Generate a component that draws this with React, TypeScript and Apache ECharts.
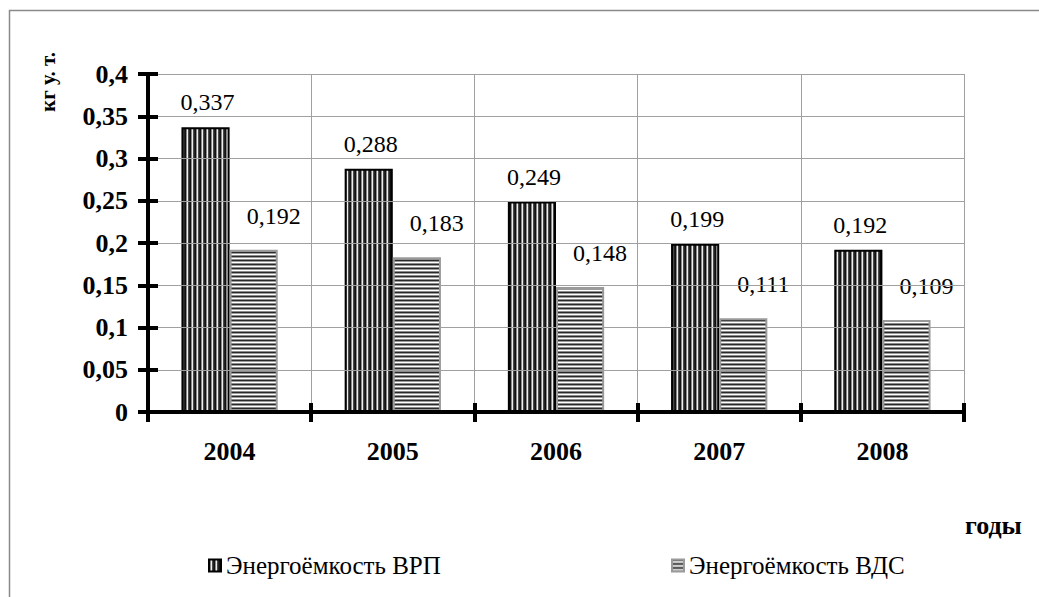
import React, { useEffect, useRef } from "react";
import * as echarts from "echarts";

const years = ["2004", "2005", "2006", "2007", "2008"];
const vrp = [0.337, 0.288, 0.249, 0.199, 0.192];
const vds = [0.192, 0.183, 0.148, 0.111, 0.109];
const seriesNames = ["Энергоёмкость ВРП", "Энергоёмкость ВДС"];
const yTitle = "кг у. т.";
const xTitle = "годы";

const SERIF = "Liberation Serif";

function makePattern(colors: string[], vertical: boolean) {
  const n = colors.length;
  const c = document.createElement("canvas");
  c.width = vertical ? n : 4;
  c.height = vertical ? 4 : n;
  const ctx = c.getContext("2d")!;
  colors.forEach((col, i) => {
    ctx.fillStyle = col;
    if (vertical) ctx.fillRect(i, 0, 1, 4);
    else ctx.fillRect(0, i, 4, 1);
  });
  return {
    image: c,
    repeat: "repeat",
    imageWidth: c.width,
    imageHeight: c.height,
  } as any;
}

const fmt = (v: number, d?: number) =>
  (d === undefined ? String(Math.round(v * 100) / 100) : v.toFixed(d)).replace(".", ",");

export default function App() {
  const ref = useRef<HTMLDivElement>(null);
  useEffect(() => {
    if (!ref.current) return;
    const chart = echarts.init(ref.current, null, { renderer: "svg" });
    const pat1 = makePattern(["#111111", "#8a8a8a", "#eeeeee", "#4a4a4a", "#222222"], true);
    const pat2 = makePattern(["#2a2a2a", "#9a9a9a", "#ffffff", "#8a8a8a"], false);

    const axisLabelStyle = {
      fontFamily: SERIF,
      fontWeight: "bold" as const,
      fontSize: 26,
      color: "#000",
    };
    const gridLine = { show: true, lineStyle: { color: "#a0a0a0", width: 1 } };

    const labelCommon = {
      show: true,
      position: "top" as const,
      fontFamily: SERIF,
      fontSize: 24,
      color: "#000",
      backgroundColor: "#fff",
      padding: [6, 4],
    };

    const legendText = { fontFamily: SERIF, fontSize: 25, color: "#000" };

    chart.setOption({
      animation: false,
      backgroundColor: "#fff",
      grid: { left: 148, right: 75, top: 74, bottom: 185, containLabel: false },
      xAxis: [
        {
          type: "category",
          data: years,
          position: "bottom",
          axisLine: { show: true, lineStyle: { color: "#000", width: 4 } },
          axisTick: { show: true, inside: false, length: 10, lineStyle: { color: "#000", width: 4 } },
          axisLabel: { ...axisLabelStyle, margin: 26 },
          splitLine: gridLine,
          z: 5,
        },
        {
          type: "category",
          data: years,
          position: "bottom",
          axisLine: { show: false },
          axisTick: { show: true, inside: true, length: 9, lineStyle: { color: "#000", width: 4 } },
          axisLabel: { show: false },
          splitLine: { show: false },
          z: 5,
        },
      ],
      yAxis: [
        {
          type: "value",
          min: 0,
          max: 0.4,
          interval: 0.05,
          position: "left",
          axisLine: { show: true, lineStyle: { color: "#000", width: 4 } },
          axisTick: { show: true, inside: false, length: 10, lineStyle: { color: "#000", width: 4 } },
          axisLabel: { ...axisLabelStyle, margin: 20, formatter: (v: number) => fmt(v) },
          splitLine: gridLine,
          z: 5,
        },
        {
          type: "value",
          min: 0,
          max: 0.4,
          interval: 0.05,
          position: "left",
          axisLine: { show: false },
          axisTick: { show: true, inside: true, length: 10, lineStyle: { color: "#000", width: 4 } },
          axisLabel: { show: false },
          splitLine: { show: false },
          z: 5,
        },
      ],
      legend: [
        {
          data: [seriesNames[0]],
          left: 208,
          top: 553,
          padding: 0,
          itemWidth: 12,
          itemHeight: 12,
          itemGap: 0,
          icon: "rect",
          textStyle: legendText,
        },
        {
          data: [seriesNames[1]],
          left: 671,
          top: 553,
          padding: 0,
          itemWidth: 12,
          itemHeight: 12,
          itemGap: 0,
          icon: "rect",
          textStyle: legendText,
        },
      ],
      series: [
        {
          name: seriesNames[0],
          type: "bar",
          data: vrp,
          barGap: "0%",
          barCategoryGap: "41%",
          itemStyle: { color: pat1, borderColor: "#000", borderWidth: 2 },
          label: { ...labelCommon, offset: [2, -2], formatter: (p: any) => fmt(p.value, 3) },
        },
        {
          name: seriesNames[1],
          type: "bar",
          data: vds,
          itemStyle: { color: pat2, borderColor: "#9a9a9a", borderWidth: 2 },
          label: { ...labelCommon, offset: [20, -11], formatter: (p: any) => fmt(p.value, 3) },
        },
      ],
      graphic: [
        {
          type: "polyline",
          shape: { points: [[9.5, 600], [9.5, 10.5], [1040, 10.5]] },
          style: { stroke: "#8a8a8a", lineWidth: 1.5, fill: "none" },
          silent: true,
        },
        {
          type: "text",
          x: 48,
          y: 82,
          rotation: Math.PI / 2,
          style: {
            text: yTitle,
            font: `bold 21px ${SERIF}`,
            fill: "#000",
            align: "center",
            verticalAlign: "middle",
          },
        },
        {
          type: "text",
          x: 965,
          y: 525,
          style: {
            text: xTitle,
            font: `bold 26px ${SERIF}`,
            fill: "#000",
            align: "left",
            verticalAlign: "middle",
          },
        },
      ],
    });
    return () => chart.dispose();
  }, []);
  return (
    <div
      ref={ref}
      style={{ position: "fixed", left: 0, top: 0, width: 1039, height: 597, background: "#fff" }}
    />
  );
}
